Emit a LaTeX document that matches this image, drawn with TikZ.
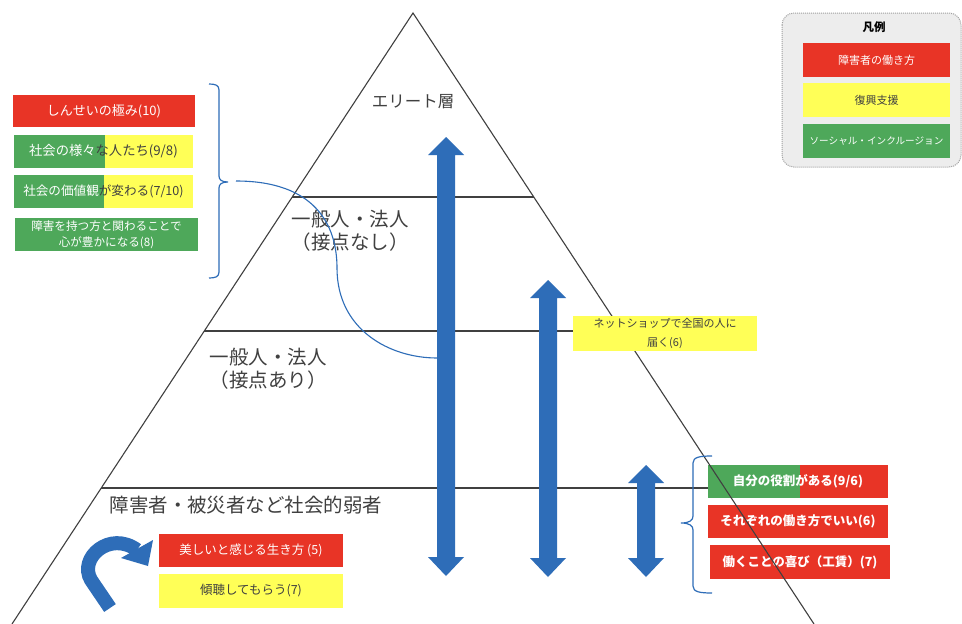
\documentclass[tikz,border=0pt]{standalone}
\usepackage{fontspec}
\newfontfamily\jp{Noto Sans CJK JP}
\usetikzlibrary{arrows.meta}
\definecolor{cred}{HTML}{E83426}
\definecolor{cyel}{HTML}{FFFF57}
\definecolor{cgrn}{HTML}{4EA85A}
\definecolor{cblue}{HTML}{2E6DB8}
\definecolor{cline}{HTML}{404040}
\definecolor{ctext}{HTML}{404040}
\definecolor{legfill}{HTML}{EDEDED}
\definecolor{legdraw}{HTML}{A0A0A0}
\newcommand\dblarr[3]{%
  \fill[cblue] (#1,#2) -- ++(18,18) -- ++(-9,0) -- ++(0,{#3-37}) -- ++(9,0)
    -- ++(-18,19) -- ++(-18,-19) -- ++(9,0) -- ++(0,{37-#3}) -- ++(-9,0) -- cycle;}
\begin{document}
\begin{tikzpicture}[x=1pt,y=-1pt,
  lbl/.style={font=\jp\fontsize{19.5}{23}\selectfont, text=ctext, align=center, inner sep=0pt},
  box/.style={anchor=north west, inner sep=0pt, outer sep=0pt, draw=none,
     font=\jp\fontsize{12.5}{16}\selectfont, align=center, text=ctext},
  rbox/.style={box, font=\jp\bfseries\fontsize{12.5}{16}\selectfont, text=white},
  legbox/.style={box, font=\jp\fontsize{11}{14}\selectfont, minimum width=147pt, minimum height=34pt},
  tri/.style={draw=cline, line width=1.1pt},
  bracestyle/.style={draw=cblue, line width=1.2pt},
]
\useasboundingbox (0,0) rectangle (962,624);
\fill[white] (0,0) rectangle (962,624);

% horizontal layer lines
\draw[tri] (292,197) -- (534,197);
\draw[tri] (204,331) -- (622,331);
\draw[tri] (101,488) -- (725,488);

% right boxes (under the triangle side)
\node[rbox, fill=cred, minimum width=180pt, minimum height=33pt,
  path picture={\fill[cgrn] (path picture bounding box.north west) rectangle ++(92,33);}]
  (ra) at (708,465) {自分の役割がある(9/6)};
\node[rbox, fill=cred, minimum width=180pt, minimum height=33pt] (rb) at (708,505) {それぞれの働き方でいい(6)};
\node[rbox, fill=cred, minimum width=180pt, minimum height=34pt] (rc) at (710,545) {働くことの喜び（工賃）(7)};

% triangle sides
\coordinate (apex) at (413,13);
\coordinate (bl) at (12,624);
\coordinate (br) at (814,624);
\draw[tri] (bl) -- (apex) -- (br);

% yellow box over the triangle
\node[box, fill=cyel, minimum width=184pt, minimum height=35pt, font=\jp\fontsize{11}{19}\selectfont]
  (net) at (573,316) {ネットショップで全国の人に\\届く(6)};

% layer labels
\node[lbl, font=\jp\fontsize{16.5}{20}\selectfont] (elite) at (413,102) {エリート層};
\node[lbl] (gen1) at (350,231) {一般人・法人\\（接点なし）};
\node[lbl] (gen2) at (268,369) {一般人・法人\\（接点あり）};
\node[lbl] (weak) at (246,505) {障害者・被災者など社会的弱者};

% left boxes
\node[box, fill=cred, text=white, minimum width=182pt, minimum height=32pt, font=\jp\fontsize{13}{16}\selectfont] (l1) at (13,95) {しんせいの極み(10)};
\node[box, fill=cyel, minimum width=179pt, minimum height=33pt, font=\jp\fontsize{13.3}{16}\selectfont,
  path picture={\fill[cgrn] (path picture bounding box.north west) rectangle ++(91,33);}]
  (l2) at (14,135) {\textcolor{white}{社会の様々}な人たち(9/8)};
\node[box, fill=cyel, minimum width=179pt, minimum height=33pt, font=\jp\fontsize{12.6}{16}\selectfont,
  path picture={\fill[cgrn] (path picture bounding box.north west) rectangle ++(90,33);}]
  (l3) at (14,175) {\textcolor{white}{社会の価値観}が変わる(7/10)};
\node[box, fill=cgrn, text=white, minimum width=183pt, minimum height=33pt, font=\jp\fontsize{11.6}{16}\selectfont] (l4) at (15,218) {障害を持つ方と関わることで\\心が豊かになる(8)};

% bottom-left boxes
\node[box, fill=cred, text=white, minimum width=184pt, minimum height=33pt] (bl1) at (159,534) {美しいと感じる生き方 (5)};
\node[box, fill=cyel, minimum width=184pt, minimum height=34pt] (bl2) at (159,574) {傾聴してもらう(7)};

% braces
\draw[bracestyle] (209,84) .. controls (215,84) and (219,85) .. (219,90) -- (219,176)
  .. controls (219,180) and (222,182) .. (228,182) .. controls (222,182) and (219,184) .. (219,188)
  -- (219,272) .. controls (219,277) and (215,278) .. (209,278);
\coordinate (lbtip) at (236,181);
\draw[bracestyle] (712,456) .. controls (700,456) and (693,457) .. (693,463) -- (693,516)
  .. controls (693,520) and (690,523) .. (681,523) .. controls (690,523) and (693,526) .. (693,530)
  -- (693,586) .. controls (693,592) and (700,593) .. (712,593);

% big double arrows
\dblarr{446}{137}{439}
\dblarr{548}{280}{297}
\dblarr{646}{465}{112}

% connecting curve
\coordinate (curveend) at (437,358);
\draw[draw=cblue, line width=1.1pt] (lbtip) .. controls (315,181) and (337,225) .. (337,268)
  .. controls (337,330) and (390,358) .. (curveend);

% curved arrow bottom-left
\draw[cblue, line width=14pt] (110,608) -- (91,580) .. controls (78,558) and (110,530) .. (137,550);
\fill[cblue] (153,540) -- (148,566) -- (121,558) -- cycle;

% legend
\draw[fill=legfill, draw=legdraw, densely dotted, line width=1pt, rounded corners=12pt] (782,13) rectangle (961,167);
\node[font=\jp\bfseries\fontsize{11.5}{14}\selectfont, text=black, inner sep=0pt] (legt) at (874,27) {凡例};
\node[legbox, fill=cred, text=white] (lg1) at (803,43) {障害者の働き方};
\node[legbox, fill=cyel] (lg2) at (803,83) {復興支援};
\node[legbox, fill=cgrn, text=white, font=\jp\fontsize{9.6}{12}\selectfont] (lg3) at (803,124) {ソーシャル・インクルージョン};
\end{tikzpicture}
\end{document}
